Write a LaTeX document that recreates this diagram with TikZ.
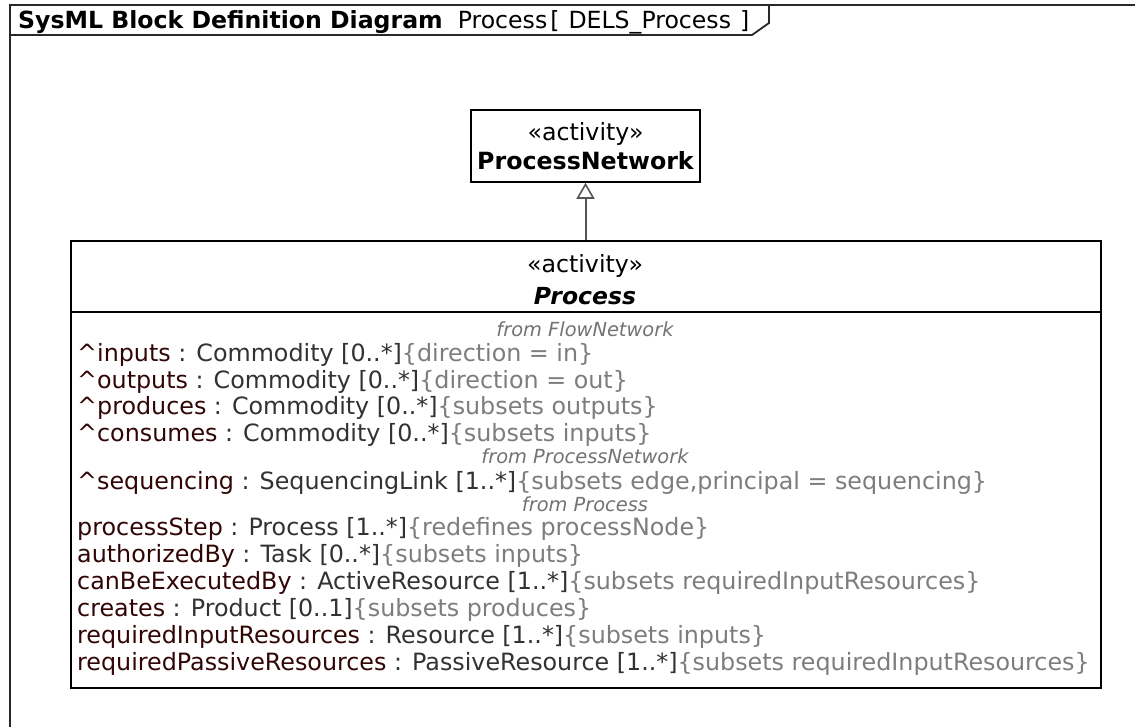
\documentclass[tikz,border=0pt]{standalone}
\usepackage{fontspec}
\setmainfont{DejaVu Sans}
\usetikzlibrary{arrows.meta}

\definecolor{framegray}{RGB}{40,40,40}
\definecolor{edgegray}{RGB}{85,85,85}
\definecolor{pname}{RGB}{50,5,5}
\definecolor{ptype}{RGB}{50,50,50}
\definecolor{pcons}{RGB}{125,125,125}
\definecolor{fromgray}{RGB}{115,115,115}

% one attribute row: name, type with multiplicity, constraint
\newcommand{\attrrow}[3]{\textcolor{pname}{#1}\ \textcolor{ptype}{: #2}\textcolor{pcons}{\{#3\}}}
\newcommand{\inh}{\textasciicircum}

\tikzset{
  frameline/.style={draw=framegray, line width=1.8pt},
  blockbox/.style={draw=black, line width=1.5pt, fill=white},
  attrtext/.style={anchor=base west, inner sep=0pt, font=\fontsize{23.8}{27}\selectfont},
  fromtext/.style={anchor=base, inner sep=0pt, text=fromgray, font=\fontsize{19.4}{22}\itshape\selectfont},
  stereo/.style={anchor=base, inner sep=0pt, font=\fontsize{23.7}{27}\selectfont},
  generalization/.style={draw=edgegray, line width=2pt,
    -{Triangle[open, length=16pt, width=18pt, fill=white, line width=1.6pt]}},
}

\begin{document}
\begin{tikzpicture}[x=1pt, y=-1pt]
\useasboundingbox (0,0) rectangle (1135,726);
\clip (0,0) rectangle (1135,726);

% diagram frame and its name tab
\draw[frameline] (10,740) -- (10,5) -- (1150,5);
\draw[frameline] (10,35) -- (752,35) -- (769,23) -- (769,5);
\node[anchor=base west, inner sep=0pt, font=\fontsize{23.6}{27}\selectfont] (title) at (18,28)
  {\textbf{SysML Block Definition Diagram}\ \ Process\hspace{3pt}[\hspace{9pt}DELS\_Process\hspace{9pt}]};

% general block
\node[blockbox, minimum width=229pt, minimum height=72pt, inner sep=0pt] (pn) at (585.5,146) {};
\node[stereo] (pnstereo) at (585.5,140) {«activity»};
\node[stereo, font=\fontsize{23.7}{27}\bfseries\selectfont] (pnname) at (585.5,169) {ProcessNetwork};

% specialised block with its attribute compartment
\node[blockbox, minimum width=1030pt, minimum height=447pt, inner sep=0pt, anchor=north west] (proc) at (70,240) {};
\draw[black, line width=1.3pt] (proc.west |- 0,312) -- (proc.east |- 0,312);
\node[stereo] (procstereo) at (585,272) {«activity»};
\node[stereo, font=\fontsize{23.5}{27}\bfseries\itshape\selectfont] (procname) at (585,304) {Process};

\node[fromtext] (fromfn) at (585,336) {from FlowNetwork};
\node[attrtext] (a1) at (77,361.5) {\attrrow{\inh inputs}{Commodity [0..*]}{direction = in}};
\node[attrtext] (a2) at (77,388) {\attrrow{\inh outputs}{Commodity [0..*]}{direction = out}};
\node[attrtext] (a3) at (77,414.5) {\attrrow{\inh produces}{Commodity [0..*]}{subsets outputs}};
\node[attrtext] (a4) at (77,441) {\attrrow{\inh consumes}{Commodity [0..*]}{subsets inputs}};
\node[fromtext] (frompn) at (585,463) {from ProcessNetwork};
\node[attrtext] (a5) at (77,489) {\attrrow{\inh sequencing}{SequencingLink [1..*]}{subsets edge,principal = sequencing}};
\node[fromtext] (fromp) at (585,511) {from Process};
\node[attrtext] (a6) at (77,535) {\attrrow{processStep}{Process [1..*]}{redefines processNode}};
\node[attrtext] (a7) at (77,562) {\attrrow{authorizedBy}{Task [0..*]}{subsets inputs}};
\node[attrtext] (a8) at (77,589) {\attrrow{canBeExecutedBy}{ActiveResource [1..*]}{subsets requiredInputResources}};
\node[attrtext] (a9) at (77,616) {\attrrow{creates}{Product [0..1]}{subsets produces}};
\node[attrtext] (a10) at (77,643) {\attrrow{requiredInputResources}{Resource [1..*]}{subsets inputs}};
\node[attrtext] (a11) at (77,670) {\attrrow{requiredPassiveResources}{PassiveResource [1..*]}{subsets requiredInputResources}};

% generalization
\draw[generalization] (proc.north -| pn.south) -- (pn.south);
\end{tikzpicture}
\end{document}
